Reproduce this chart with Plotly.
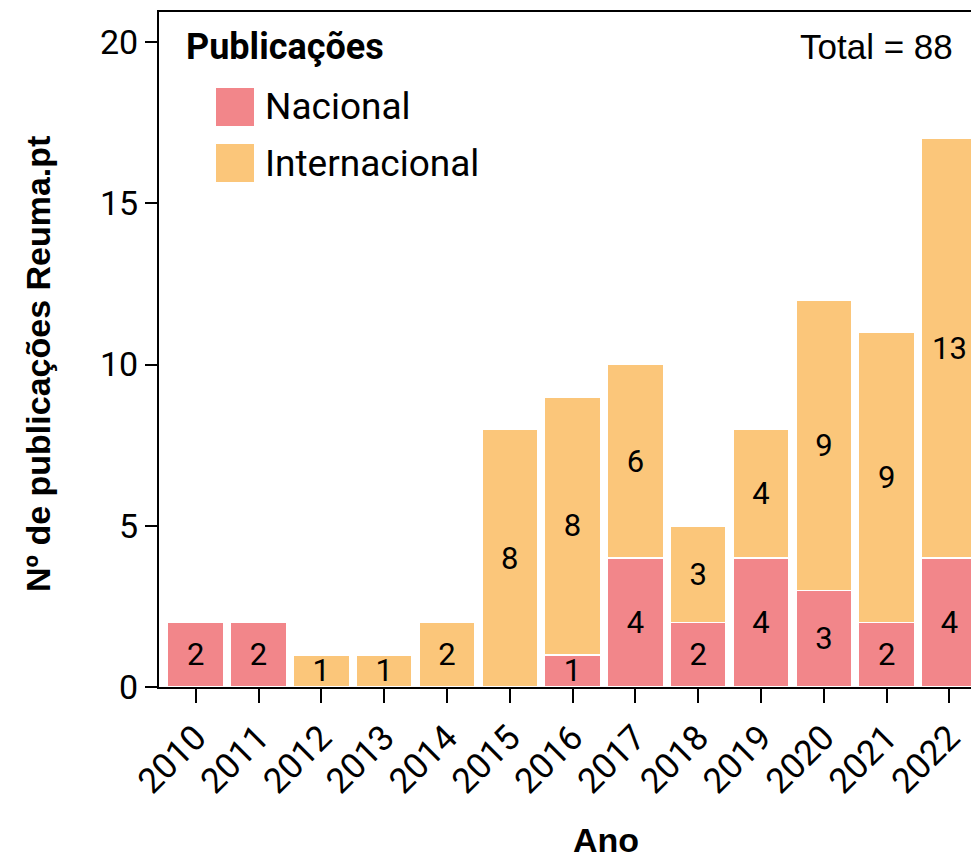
import plotly.graph_objects as go

anos = ["2010", "2011", "2012", "2013", "2014", "2015", "2016",
        "2017", "2018", "2019", "2020", "2021", "2022"]
nacional = [2, 2, 0, 0, 0, 0, 1, 4, 2, 4, 3, 2, 4]
internacional = [0, 0, 1, 1, 2, 8, 8, 6, 3, 4, 9, 9, 13]
nome_nac = "Nacional"
nome_int = "Internacional"
cor_nac = "#F2868A"
cor_int = "#FBC67A"
total = sum(nacional) + sum(internacional)

# the page has an 8px body margin; work in page pixels and shift
O = 8
PAGE_W, PAGE_H = 979, 859
W, H = PAGE_W - O, PAGE_H - O
PL, PT, PB, PR = 159, 12, 687, 979   # plot area in page pixels
L, T = PL - O, PT - O
B = H - (PB - O)
R = W - (PR - O)
PW, PH = W - L - R, H - T - B
FONT = "Roboto"
SANS = "Liberation Sans"


def px(x):
    return (x - PL) / PW


def py(y):
    return (PB - y) / PH


fig = go.Figure()
for vals, nome, cor in [(nacional, nome_nac, cor_nac), (internacional, nome_int, cor_int)]:
    fig.add_trace(go.Bar(
        x=anos, y=vals, name=nome,
        marker=dict(color=cor, line=dict(color="white", width=1.5)),
        text=[str(v) if v > 0 else "" for v in vals],
        textposition="inside", insidetextanchor="middle", textangle=0,
        textfont=dict(family=FONT, size=31, color="black"),
        showlegend=False, hoverinfo="x+y+name",
    ))

shapes = []
annotations = []
# legend
annotations.append(dict(xref="paper", yref="paper", x=px(184), y=py(47),
                        xanchor="left", yanchor="middle", showarrow=False,
                        text="<b>Publicações</b>",
                        font=dict(family=FONT, size=36, color="black")))
for (nome, cor, yc) in [(nome_nac, cor_nac, 107), (nome_int, cor_int, 163)]:
    shapes.append(dict(type="rect", xref="paper", yref="paper",
                       x0=px(216), x1=px(254), y0=py(yc - 19), y1=py(yc + 19),
                       fillcolor=cor, line=dict(width=0)))
    annotations.append(dict(xref="paper", yref="paper", x=px(263), y=py(yc),
                            xanchor="left", yanchor="middle", showarrow=False,
                            text=nome, font=dict(family=FONT, size=37, color="black")))

annotations.append(dict(xref="paper", yref="paper", x=px(955), y=py(47),
                        xanchor="right", yanchor="middle", showarrow=False,
                        text=f"Total = {total}",
                        font=dict(family=SANS, size=35, color="black")))
# axis titles
annotations.append(dict(xref="paper", yref="paper", x=px(606), y=py(840),
                        xanchor="center", yanchor="middle", showarrow=False,
                        text="<b>Ano</b>",
                        font=dict(family=SANS, size=34, color="black")))
annotations.append(dict(xref="paper", yref="paper", x=px(38), y=py(364),
                        xanchor="center", yanchor="middle", showarrow=False,
                        textangle=-90,
                        text="<b>Nº de publicações Reuma.pt</b>",
                        font=dict(family=SANS, size=34, color="black")))

fig.update_layout(
    width=W, height=H,
    margin=dict(l=L, r=R, t=T, b=B, autoexpand=False),
    barmode="stack", bargap=0.11,
    plot_bgcolor="white", paper_bgcolor="white",
    font=dict(family=FONT, color="black"),
    uniformtext=dict(minsize=31, mode="show"),
    shapes=shapes, annotations=annotations,
    xaxis=dict(
        type="category", range=[-0.584, 12.47],
        showline=True, linecolor="black", linewidth=2, mirror=True,
        ticks="outside", ticklen=14, tickwidth=2, tickcolor="black",
        tickangle=-45, tickfont=dict(family=FONT, size=35, color="black"),
        showgrid=False, zeroline=False,
    ),
    yaxis=dict(
        range=[0, 20.93], tickvals=[0, 5, 10, 15, 20],
        showline=True, linecolor="black", linewidth=2,
        ticks="outside", ticklen=12, tickwidth=2, tickcolor="black",
        tickfont=dict(family=FONT, size=34, color="black"),
        showgrid=False, zeroline=False,
    ),
)

fig.write_html("out.html")
